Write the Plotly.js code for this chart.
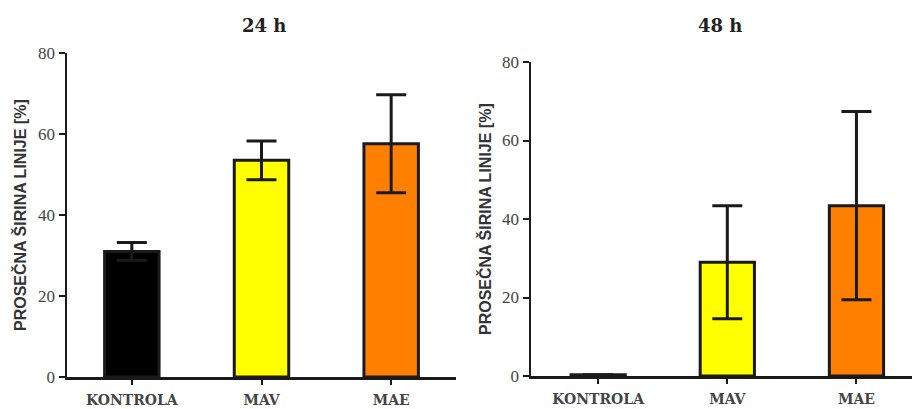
<!DOCTYPE html>
<html>
<head>
<meta charset="utf-8">
<script src="https://cdn.plot.ly/plotly-3.0.1.min.js"></script>
<style>
  html, body { margin: 0; padding: 0; background: #ffffff; }
  #chart { width: 912px; height: 409px; }
</style>
</head>
<body>
<div id="chart"></div>
<script>
// Groups and their bar colours
const groups = ['KONTROLA', 'MAV', 'MAE'];
const barColors = ['#000000', '#ffff00', '#ff8000'];

// Mean line width (%) with error, after 24 h
const mean24 = [31, 53.5, 57.6];
const err24 = [2.2, 4.8, 12.1];

// Mean line width (%) with error, after 48 h
const mean48 = [0.3, 29, 43.4];
const err48 = [0, 14.4, 24];

const panelTitles = ['24 h', '48 h'];
const yTitle = 'PROSEČNA ŠIRINA LINIJE [%]';
const yTicks = [0, 20, 40, 60, 80];

const ink = '#1a1a1a';

function barTrace(means, errs, xa, ya) {
  return {
    type: 'bar',
    x: groups,
    y: means,
    xaxis: xa,
    yaxis: ya,
    width: 0.42,
    marker: { color: barColors, line: { color: ink, width: 3 } },
    error_y: { type: 'data', array: errs, visible: true, color: ink, thickness: 3, width: 15 },
    hoverinfo: 'x+y',
    showlegend: false
  };
}

const xCommon = {
  type: 'category',
  showline: true, linecolor: ink, linewidth: 2.5,
  ticks: 'outside', ticklen: 5, tickwidth: 2, tickcolor: ink,
  ticklabelstandoff: 4,
  showgrid: false, zeroline: false, fixedrange: true,
  tickfont: { family: 'DejaVu Serif', size: 14, color: '#444', weight: 'bold' }
};
const yCommon = {
  range: [0, 80], tickvals: yTicks, ticktext: yTicks.map(String),
  showline: true, linecolor: ink, linewidth: 2.5,
  ticks: 'outside', ticklen: 6, tickwidth: 2, tickcolor: ink,
  showgrid: false, zeroline: false, fixedrange: true,
  tickfont: { family: 'Liberation Serif', size: 17, color: '#444' }
};

const layout = {
  width: 912, height: 409,
  margin: { l: 0, r: 0, t: 0, b: 0 },
  paper_bgcolor: '#ffffff', plot_bgcolor: '#ffffff',
  bargap: 0.2,
  xaxis: Object.assign({}, xCommon, { domain: [67 / 912, 456 / 912], range: [-0.5, 2.5], anchor: 'y' }),
  yaxis: Object.assign({}, yCommon, { domain: [32 / 409, 356 / 409], anchor: 'x' }),
  xaxis2: Object.assign({}, xCommon, { domain: [531 / 912, 1], range: [-0.52, 2.43], anchor: 'y2' }),
  yaxis2: Object.assign({}, yCommon, { domain: [33 / 409, 347 / 409], anchor: 'x2' }),
  annotations: [
    { text: panelTitles[0], xref: 'paper', yref: 'paper', x: 264 / 912, y: 1 - 25 / 409,
      showarrow: false, xanchor: 'center', yanchor: 'middle',
      font: { family: 'DejaVu Serif', size: 18, color: '#222', weight: 'bold' } },
    { text: panelTitles[1], xref: 'paper', yref: 'paper', x: 720 / 912, y: 1 - 25 / 409,
      showarrow: false, xanchor: 'center', yanchor: 'middle',
      font: { family: 'DejaVu Serif', size: 18, color: '#222', weight: 'bold' } },
    { text: yTitle, xref: 'paper', yref: 'paper', x: 20 / 912, y: 1 - 215 / 409,
      showarrow: false, textangle: -90, xanchor: 'center', yanchor: 'middle',
      font: { family: 'Liberation Sans', size: 16, color: '#333', weight: 'bold' } },
    { text: yTitle, xref: 'paper', yref: 'paper', x: 485 / 912, y: 1 - 219 / 409,
      showarrow: false, textangle: -90, xanchor: 'center', yanchor: 'middle',
      font: { family: 'Liberation Sans', size: 16, color: '#333', weight: 'bold' } }
  ]
};

Plotly.newPlot('chart', [
  barTrace(mean24, err24, 'x', 'y'),
  barTrace(mean48, err48, 'x2', 'y2')
], layout, { displayModeBar: false, staticPlot: true });
</script>
</body>
</html>
